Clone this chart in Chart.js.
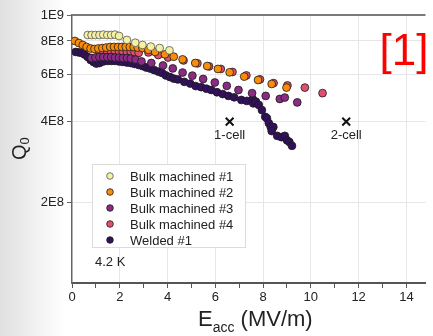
<!DOCTYPE html>
<html>
<head>
<meta charset="utf-8">
<style>
  html, body { margin: 0; padding: 0; }
  body {
    width: 433px; height: 336px; overflow: hidden;
    background: linear-gradient(to right, #e0e0e0 0px, #e8e8e8 18px, #f6f6f6 45px, #ffffff 66px);
  }
  #wrap { position: relative; width: 433px; height: 336px; }
</style>
<script src="https://cdn.jsdelivr.net/npm/chart.js@4"></script>
</head>
<body>
<div id="wrap"><canvas id="chart" width="433" height="336"></canvas></div>
<script>
// Q0 vs Eacc at 4.2 K
const bulk1X = [0.66, 0.82, 0.98, 1.15, 1.31, 1.48, 1.64, 1.80, 1.97, 2.30, 2.65, 2.95, 3.30, 3.67, 4.08];
const bulk1Y = [8.42e8, 8.42e8, 8.42e8, 8.42e8, 8.45e8, 8.42e8, 8.42e8, 8.45e8, 8.35e8, 8.07e8, 7.88e8, 7.73e8, 7.62e8, 7.53e8, 7.38e8];

const bulk2X = [0.12, 0.29, 0.45, 0.61, 0.78, 0.94, 1.10, 1.27, 1.43, 1.60, 1.76, 1.93, 2.09, 2.25, 2.42, 2.58, 2.75, 2.95,
  3.20, 3.48, 3.89, 4.26, 4.63, 5.16, 5.66, 6.11, 6.60, 7.21, 7.79, 8.36, 8.98];
const bulk2Y = [8.0e8, 7.86e8, 7.73e8, 7.60e8, 7.50e8, 7.47e8, 7.50e8, 7.53e8, 7.56e8, 7.60e8, 7.60e8, 7.60e8, 7.60e8, 7.60e8, 7.60e8, 7.60e8, 7.56e8, 7.53e8,
  7.41e8, 7.28e8, 7.13e8, 6.99e8, 6.83e8, 6.62e8, 6.45e8, 6.29e8, 6.11e8, 5.89e8, 5.72e8, 5.53e8, 5.36e8];

const bulk3X = [0.82, 0.98, 1.15, 1.31, 1.48, 1.64, 1.80, 1.97, 2.13, 2.30, 2.46, 2.66, 2.91, 3.32, 3.81, 4.22, 4.63,
  5.04, 5.49, 5.98, 6.48, 6.97, 7.54, 8.11, 8.70, 8.91, 9.43];
const bulk3Y = [6.91e8, 6.94e8, 6.97e8, 6.97e8, 6.97e8, 6.97e8, 6.94e8, 6.94e8, 6.91e8, 6.91e8, 6.88e8, 6.82e8, 6.71e8, 6.62e8, 6.48e8, 6.32e8, 6.10e8,
  5.94e8, 5.77e8, 5.60e8, 5.44e8, 5.25e8, 5.11e8, 4.99e8, 4.86e8, 4.92e8, 4.72e8];

const bulk4X = [1.15, 1.31, 1.48, 1.64, 1.80, 1.97, 2.13, 2.30, 2.46, 2.62, 2.79, 3.20, 3.61, 4.02, 4.67, 5.25, 5.74,
  6.23, 6.72, 7.30, 7.87, 8.44, 9.02, 9.75, 10.49];
const bulk4Y = [7.28e8, 7.28e8, 7.28e8, 7.28e8, 7.28e8, 7.28e8, 7.28e8, 7.28e8, 7.28e8, 7.25e8, 7.22e8, 7.25e8, 7.09e8, 6.94e8, 6.77e8, 6.60e8, 6.43e8,
  6.29e8, 6.13e8, 5.95e8, 5.75e8, 5.57e8, 5.46e8, 5.36e8, 5.11e8];

const weldX = [0.16, 0.29, 0.41, 0.53, 0.66, 0.78, 0.90, 1.02, 1.15, 1.31, 1.48, 1.64, 1.80, 1.97, 2.13, 2.30, 2.46, 2.62, 2.79, 2.95,
  3.11, 3.28, 3.44, 3.61, 3.77, 3.93, 4.10, 4.26, 4.43, 4.70, 4.95, 5.18, 5.41, 5.63, 5.83, 6.07, 6.31, 6.55, 6.79, 7.09,
  7.32, 7.57, 7.59, 7.70, 7.82, 7.95, 8.09, 8.16, 8.24, 8.32, 8.43, 8.36, 8.59, 8.77, 8.91, 9.00, 9.10, 9.21];
const weldY = [7.28e8, 7.25e8, 7.22e8, 7.12e8, 6.97e8, 6.80e8, 6.68e8, 6.59e8, 6.62e8, 6.71e8, 6.74e8, 6.74e8, 6.74e8, 6.71e8, 6.68e8, 6.65e8, 6.62e8, 6.57e8, 6.51e8, 6.45e8,
  6.37e8, 6.31e8, 6.23e8, 6.15e8, 6.08e8, 5.95e8, 5.87e8, 5.79e8, 5.75e8, 5.63e8, 5.55e8, 5.43e8, 5.38e8, 5.31e8, 5.25e8, 5.15e8, 5.07e8, 4.99e8, 4.93e8, 4.82e8,
  4.78e8, 4.85e8, 4.68e8, 4.75e8, 4.62e8, 4.42e8, 4.17e8, 4.12e8, 3.95e8, 3.82e8, 3.82e8, 3.69e8, 3.54e8, 3.50e8, 3.54e8, 3.41e8, 3.36e8, 3.25e8];

const seriesNames = ['Bulk machined #1', 'Bulk machined #2', 'Bulk machined #3', 'Bulk machined #4', 'Welded #1'];
const seriesColors = ['#f4f0a4', '#f98c0a', '#8a2b84', '#e0506e', '#33105e'];

// design targets marked with crosses
const targetNames = ['1-cell', '2-cell'];
const targetX = [6.6, 11.48];
const targetY = [4e8, 4e8];

const xTicks = [0, 1, 2, 3, 4, 5, 6, 7, 8, 9, 10, 11, 12, 13, 14];
const yTicks = [1e8, 2e8, 4e8, 6e8, 8e8, 1e9];

const FONT = "'Liberation Sans', Arial, sans-serif";

function pts(xs, ys) {
  return xs.map((x, i) => ({ x: x, y: ys[i] }));
}

const seriesData = [
  pts(bulk1X, bulk1Y), pts(bulk2X, bulk2Y), pts(bulk3X, bulk3Y), pts(bulk4X, bulk4Y), pts(weldX, weldY)
];

const datasets = seriesNames.map((name, i) => ({
  label: name,
  data: seriesData[i],
  backgroundColor: seriesColors[i],
  borderColor: i === 0 ? '#555' : '#1a1a1a',
  borderWidth: 0.8,
  pointRadius: 3.9,
  showLine: false
}));

datasets.unshift({
  label: 'targets',
  data: pts(targetX, targetY),
  pointStyle: 'crossRot',
  pointRadius: 5.5,
  borderColor: '#111',
  borderWidth: 2,
  showLine: false
});

const decor = {
  id: 'decor',
  afterDatasetsDraw(chart) {
    const { ctx, chartArea, scales } = chart;
    ctx.save();

    // top frame line
    ctx.strokeStyle = '#7a7a7a';
    ctx.lineWidth = 2;
    ctx.beginPath();
    ctx.moveTo(chartArea.left, chartArea.top);
    ctx.lineTo(chartArea.right, chartArea.top);
    ctx.stroke();

    // target labels
    ctx.fillStyle = '#222';
    ctx.font = '13px ' + FONT;
    ctx.textAlign = 'center';
    ctx.textBaseline = 'middle';
    targetNames.forEach((t, i) => {
      const px = scales.x.getPixelForValue(targetX[i]);
      const py = scales.y.getPixelForValue(targetY[i]);
      ctx.fillText(t, px, py + 14);
    });

    // legend box
    const lx = 92, ly = 164, lw = 153, lh = 83;
    ctx.fillStyle = '#fff';
    ctx.fillRect(lx, ly, lw, lh);
    ctx.strokeStyle = '#dcdcdc';
    ctx.lineWidth = 1;
    ctx.strokeRect(lx + 0.5, ly + 0.5, lw, lh);
    ctx.textAlign = 'left';
    seriesNames.forEach((name, i) => {
      const y = ly + 12 + i * 16;
      ctx.beginPath();
      ctx.arc(lx + 18, y, 3.3, 0, Math.PI * 2);
      ctx.fillStyle = seriesColors[i];
      ctx.fill();
      ctx.strokeStyle = i === 0 ? '#555' : '#1a1a1a';
      ctx.lineWidth = 0.8;
      ctx.stroke();
      ctx.fillStyle = '#222';
      ctx.fillText(name, lx + 38, y + 1);
    });

    ctx.fillText('4.2 K', 95, 262);

    // reference tag
    ctx.fillStyle = '#ff0000';
    ctx.font = '44px ' + FONT;
    ctx.textAlign = 'center';
    ctx.textBaseline = 'alphabetic';
    ctx.fillText('[1]', 404, 65);

    // x title: E_acc (MV/m)
    ctx.fillStyle = '#222';
    ctx.textAlign = 'left';
    let x = 198;
    ctx.font = '22px ' + FONT;
    ctx.fillText('E', x, 326);
    x += ctx.measureText('E').width;
    ctx.font = '14px ' + FONT;
    ctx.fillText('acc', x, 332);
    x += ctx.measureText('acc').width;
    ctx.font = '22px ' + FONT;
    ctx.fillText(' (MV/m)', x, 326);

    // y title: Q_0
    ctx.translate(26, 160);
    ctx.rotate(-Math.PI / 2);
    ctx.font = '20px ' + FONT;
    ctx.fillText('Q', 0, 0);
    const qw = ctx.measureText('Q').width;
    ctx.font = '13px ' + FONT;
    ctx.fillText('0', qw, 3);

    ctx.restore();
  }
};

new Chart(document.getElementById('chart'), {
  type: 'scatter',
  data: { datasets: datasets },
  options: {
    responsive: false,
    animation: false,
    layout: { padding: { top: 15, left: 0, right: 0, bottom: 0 } },
    plugins: { legend: { display: false }, tooltip: { enabled: false } },
    scales: {
      x: {
        type: 'linear',
        min: 0,
        max: 14.8,
        afterBuildTicks: (s) => { s.ticks = xTicks.map(v => ({ value: v })); },
        afterFit: (s) => { s.height = 53; },
        ticks: {
          autoSkip: false,
          maxRotation: 0,
          padding: 2,
          color: '#222',
          font: { family: FONT, size: 13 },
          callback: (v) => (v % 2 === 0 ? String(v) : '')
        },
        grid: {
          color: (c) => (c.tick && c.tick.value % 2 === 0 && c.tick.value !== 0 ? '#e6e6e6' : 'rgba(0,0,0,0)'),
          tickColor: '#555',
          tickLength: 5,
          lineWidth: 1
        },
        border: { color: '#555', width: 2 }
      },
      y: {
        type: 'logarithmic',
        min: 1e8,
        max: 1e9,
        afterBuildTicks: (s) => { s.ticks = yTicks.map(v => ({ value: v })); },
        afterFit: (s) => { s.width = 72; },
        ticks: {
          autoSkip: false,
          padding: 3,
          color: '#222',
          font: { family: FONT, size: 13 },
          callback: (v) => {
            if (v === 1e8) return '';
            const e = Math.floor(Math.log10(v) + 1e-9);
            return Math.round(v / Math.pow(10, e)) + 'E' + e;
          }
        },
        grid: {
          color: (c) => (c.tick && c.tick.value > 1e8 && c.tick.value < 1e9 ? '#e6e6e6' : 'rgba(0,0,0,0)'),
          tickColor: (c) => (c.tick && c.tick.value === 1e8 ? 'rgba(0,0,0,0)' : '#666'),
          tickLength: 5,
          lineWidth: 1
        },
        border: { color: '#666', width: 1.5 }
      }
    }
  },
  plugins: [decor]
});
</script>
</body>
</html>
